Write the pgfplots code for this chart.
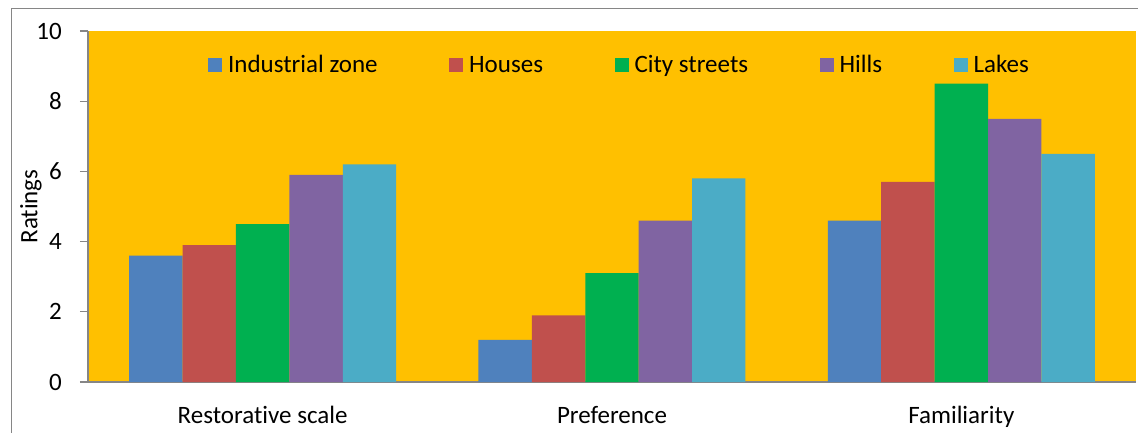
\documentclass[border=0pt]{standalone}
\usepackage{fontspec}
\setmainfont{Carlito}[Ligatures=NoCommon]
\usepackage{pgfplots}
\pgfplotsset{compat=1.18}

\definecolor{bgorange}{HTML}{FFC000}
\definecolor{axisgray}{HTML}{868686}
\definecolor{cInd}{HTML}{4F81BD}
\definecolor{cHou}{HTML}{C0504D}
\definecolor{cCit}{HTML}{00B050}
\definecolor{cHil}{HTML}{8064A2}
\definecolor{cLak}{HTML}{4BACC6}

\newcommand{\chartfont}{\fontsize{25}{30}\selectfont}

\begin{document}
\begin{tikzpicture}[x=1pt,y=1pt]
\useasboundingbox (0,0) rectangle (1138,432);
\begin{scope}
\clip (0,0) rectangle (1138,432);
% outer chart frame
\draw[axisgray, line width=1.3pt] (11.5,-20) rectangle (1160,423.7);
\begin{axis}[
  at={(88pt,50pt)}, anchor=south west,
  scale only axis, width=1048pt, height=351pt,
  ybar=0pt, bar width=53.4pt,
  xmin=-0.5, xmax=2.5, ymin=0, ymax=10,
  enlargelimits=false, clip=false,
  axis background/.style={fill=bgorange},
  axis x line*=bottom, axis y line*=left,
  axis line style={draw=axisgray, line width=1.7pt},
  xtick={0,1,2},
  xticklabels={Restorative scale, Preference, Familiarity},
  ytick={0,2,...,10},
  tick align=outside,
  x tick style={draw=none},
  y tick style={draw=axisgray, line width=1.3pt},
  major tick length=8pt,
  /pgf/number format/assume math mode=true,
  tick label style={font=\chartfont, inner sep=0pt},
  yticklabel style={anchor=east, xshift=-18pt},
  xticklabel style={anchor=base, yshift=-33pt},
  ylabel={Ratings},
  ylabel style={font=\chartfont, at={(axis description cs:-0.0544,0.5)}, rotate=0, anchor=center},
  legend columns=5,
  legend style={at={(0.1145,0.903)}, anchor=west, draw=none, fill=none,
    inner sep=0pt, font=\chartfont,
    /tikz/every odd column/.append style={column sep=4pt},
    /tikz/every even column/.append style={column sep=69.5pt}},
  every axis plot post/.append style={
    legend image code/.code={\fill[##1] (0pt,-7pt) rectangle (14pt,7pt);}},
]
\addplot[fill=cInd, draw=none] coordinates {(0,3.6) (1,1.2) (2,4.6)};
\addplot[fill=cHou, draw=none] coordinates {(0,3.9) (1,1.9) (2,5.7)};
\addplot[fill=cCit, draw=none] coordinates {(0,4.5) (1,3.1) (2,8.5)};
\addplot[fill=cHil, draw=none] coordinates {(0,5.9) (1,4.6) (2,7.5)};
\addplot[fill=cLak, draw=none] coordinates {(0,6.2) (1,5.8) (2,6.5)};
\legend{Industrial zone, Houses, City streets, Hills, Lakes}
\end{axis}
\end{scope}
\end{tikzpicture}
\end{document}
